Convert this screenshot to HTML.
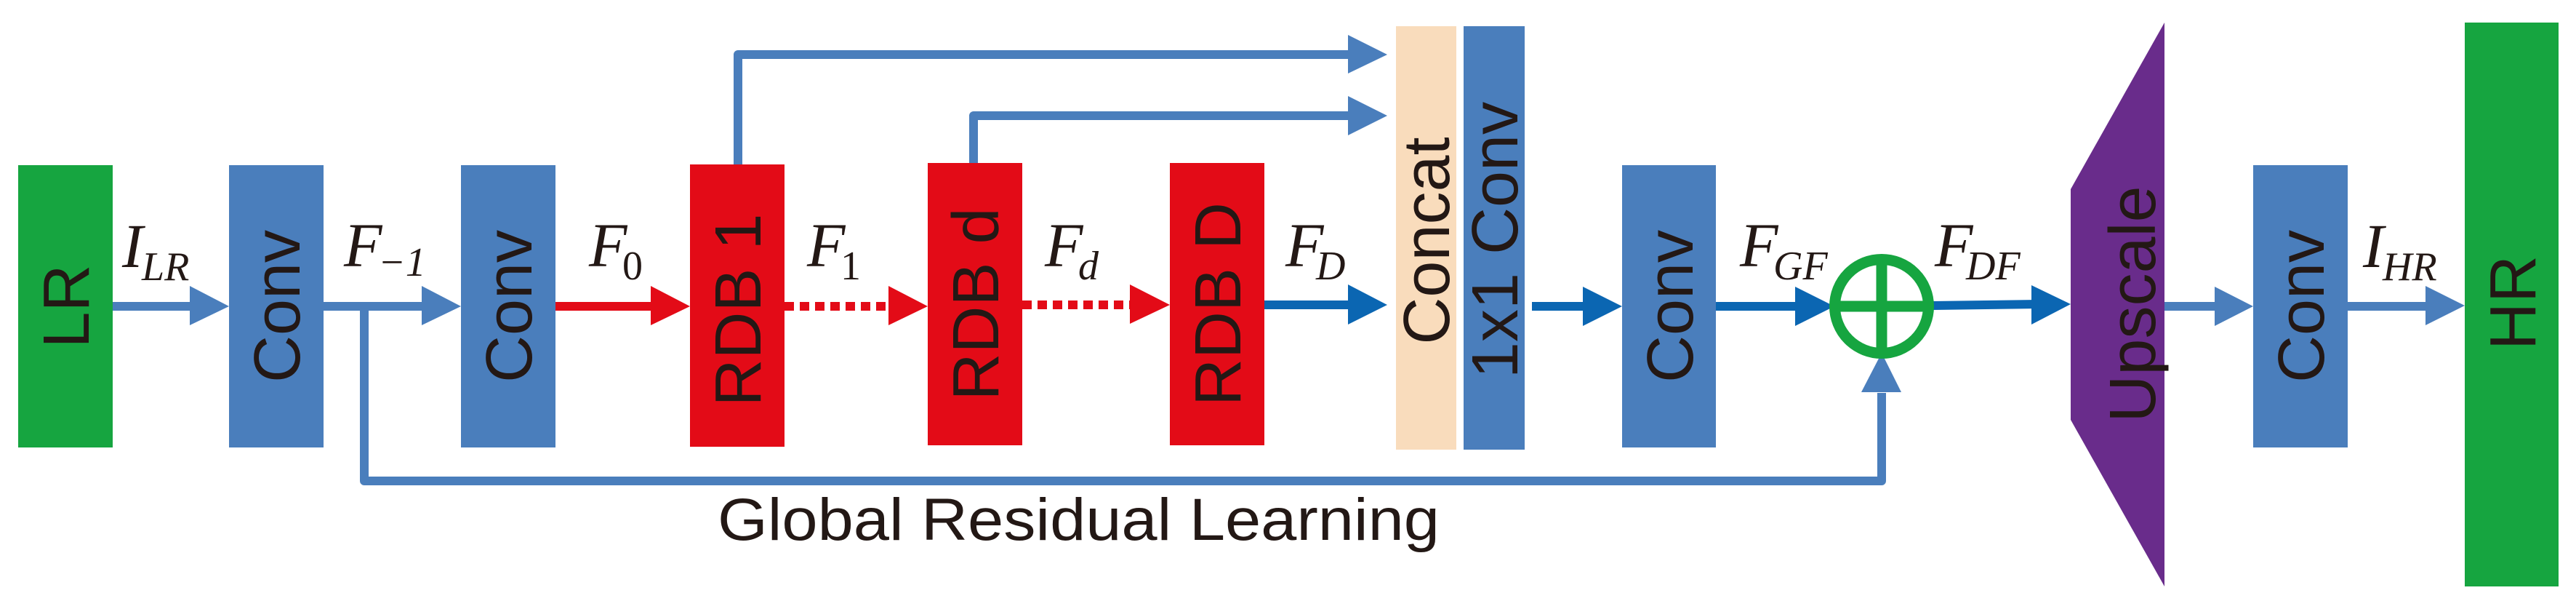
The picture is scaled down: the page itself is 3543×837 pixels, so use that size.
<!DOCTYPE html>
<html><head><meta charset="utf-8"><style>html,body{margin:0;padding:0;background:#fff}svg{display:block}</style></head>
<body>
<svg width="3543" height="837" viewBox="0 0 3543 837" xmlns="http://www.w3.org/2000/svg">
<defs>
<style>
.box{font-family:"Liberation Sans",Arial,sans-serif;font-size:90px;fill:#231815}
.m{font-family:"Liberation Serif",serif;font-style:italic;fill:#231815}
</style>
</defs>
<!-- boxes -->
<rect x="25" y="227" width="130" height="388" fill="#16a540"/>
<rect x="315" y="227" width="130" height="388" fill="#4a7ebc"/>
<rect x="634" y="227" width="130" height="388" fill="#4a7ebc"/>
<rect x="949" y="226" width="130" height="388" fill="#e30b17"/>
<rect x="1276" y="224" width="130" height="388" fill="#e30b17"/>
<rect x="1609" y="224" width="130" height="388" fill="#e30b17"/>
<rect x="1920" y="36" width="83" height="582" fill="#f9dcbc"/>
<rect x="2013" y="36" width="84" height="582" fill="#4a7ebc"/>
<rect x="2231" y="227" width="129" height="388" fill="#4a7ebc"/>
<polygon points="2848,260 2977,31 2977,806 2848,577" fill="#692c8b"/>
<rect x="3099" y="227" width="130" height="388" fill="#4a7ebc"/>
<rect x="3390" y="31" width="129" height="775" fill="#16a540"/>

<!-- box labels -->
<g class="box" text-anchor="middle">
<text transform="translate(122,421) rotate(-90)">LR</text>
<text transform="translate(412,421) rotate(-90)">Conv</text>
<text transform="translate(731,421) rotate(-90)">Conv</text>
<text transform="translate(1046,426) rotate(-90)">RDB 1</text>
<text transform="translate(1373,418) rotate(-90)">RDB d</text>
<text transform="translate(1706,418) rotate(-90)">RDB D</text>
<text transform="translate(1993,331) rotate(-90)">Concat</text>
<text transform="translate(2087,330) rotate(-90)">1x1 Conv</text>
<text transform="translate(2328,421) rotate(-90)">Conv</text>
<text transform="translate(2964,418) rotate(-90)">Upscale</text>
<text transform="translate(3196,421) rotate(-90)">Conv</text>
<text transform="translate(3487,416) rotate(-90)">HR</text>
</g>

<!-- connectors -->
<g stroke="#4a7ebc" stroke-width="12" fill="none" stroke-linejoin="round">
<line x1="155" y1="421" x2="265" y2="421"/>
<line x1="445" y1="421" x2="584" y2="421"/>
<polyline points="1015,226 1015,75 1858,75"/>
<polyline points="1339,224 1339,159 1858,159"/>
<polyline points="501,421 501,661 2588,661 2588,540"/>
<line x1="2977" y1="421" x2="3050" y2="421"/>
<line x1="3229" y1="421" x2="3340" y2="421"/>
</g>
<g fill="#4a7ebc">
<polygon points="261,393 315,421 261,447"/>
<polygon points="580,393 634,421 580,447"/>
<polygon points="1854,48 1908,75 1854,101"/>
<polygon points="1854,132 1908,159 1854,186"/>
<polygon points="2560,539 2588,485 2615,539"/>
<polygon points="3046,394 3099,421 3046,448"/>
<polygon points="3336,393 3390,420 3336,447"/>
</g>
<line x1="764" y1="421" x2="900" y2="421" stroke="#e30b17" stroke-width="12"/>
<polygon points="895,393 949,421 895,447" fill="#e30b17"/>
<line x1="1079" y1="421" x2="1226" y2="421" stroke="#e30b17" stroke-width="12" stroke-dasharray="13 8"/>
<polygon points="1222,393 1276,421 1222,447" fill="#e30b17"/>
<line x1="1406" y1="419" x2="1556" y2="419" stroke="#e30b17" stroke-width="12" stroke-dasharray="13 8"/>
<polygon points="1554,391 1609,419 1554,445" fill="#e30b17"/>

<g stroke="#0b66b2" stroke-width="12">
<line x1="1739" y1="419" x2="1860" y2="419"/>
<line x1="2107" y1="421" x2="2180" y2="421"/>
<line x1="2360" y1="421" x2="2472" y2="421"/>
<line x1="2655" y1="420" x2="2800" y2="418"/>
</g>
<g fill="#0b66b2">
<polygon points="1854,391 1908,419 1854,446"/>
<polygon points="2177,394 2231,421 2177,448"/>
<polygon points="2469,394 2523,421 2469,448"/>
<polygon points="2794,392 2848,418 2794,446"/>
</g>
<!-- sum circle -->
<g stroke="#16a540" stroke-width="15" fill="none">
<circle cx="2588" cy="421" r="64.5"/>
<line x1="2523" y1="421" x2="2653" y2="421"/>
<line x1="2588" y1="356" x2="2588" y2="486"/>
</g>

<!-- math labels -->
<g class="m">
<text x="168" y="367" font-size="86">I</text><text x="195" y="385" font-size="56">LR</text>
<text x="473" y="366" font-size="86">F</text><text x="520" y="379" font-size="56">−1</text>
<text x="810" y="366" font-size="86">F</text><text x="856" y="384" font-size="56" font-style="normal">0</text>
<text x="1110" y="366" font-size="86">F</text><text x="1156" y="384" font-size="56" font-style="normal">1</text>
<text x="1437" y="366" font-size="86">F</text><text x="1483" y="384" font-size="56">d</text>
<text x="1768" y="366" font-size="86">F</text><text x="1810" y="384" font-size="56">D</text>
<text x="2393" y="366" font-size="86">F</text><text x="2439" y="384" font-size="56">GF</text>
<text x="2661" y="366" font-size="86">F</text><text x="2704" y="384" font-size="56">DF</text>
<text x="3250" y="367" font-size="86">I</text><text x="3277" y="385" font-size="56">HR</text>
</g>

<text x="987" y="742" font-family="Liberation Sans,Arial,sans-serif" font-size="82" fill="#231815" textLength="993" lengthAdjust="spacingAndGlyphs">Global Residual Learning</text>
</svg>
</body></html>
